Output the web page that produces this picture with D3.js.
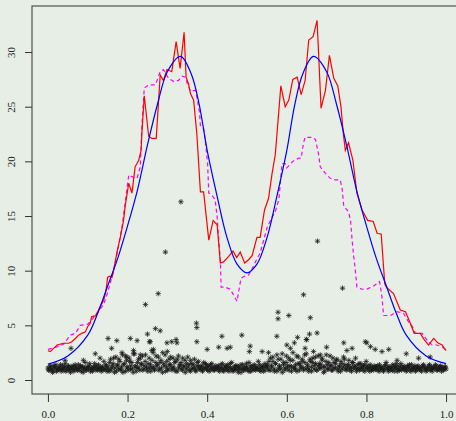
<!DOCTYPE html>
<html><head><meta charset="utf-8">
<script src="https://cdn.jsdelivr.net/npm/d3@7"></script>
<style>
html,body{margin:0;padding:0;background:#e6eee5;}
svg{display:block;}
text{font-family:"Liberation Serif","DejaVu Serif",serif;font-size:11px;fill:#222;}
</style></head><body>
<svg id="c" width="456" height="421"></svg>
<script>
// ---- data ----
const xTicks = [0.0, 0.2, 0.4, 0.6, 0.8, 1.0];
const yTicks = [0, 5, 10, 15, 20, 25, 30];

const blueX = [0,0.05,0.10,0.125,0.15,0.175,0.20,0.225,0.25,0.275,0.30,0.333,0.36,0.38,0.40,0.425,0.45,0.475,0.50,
  0.525,0.55,0.575,0.60,0.62,0.64,0.667,0.70,0.725,0.75,0.775,0.80,0.825,0.85,0.875,0.90,0.95,1.0];
const blueY = [1.45,2.2,4.1,6.1,8.6,11.1,14.1,17.4,21.5,25.2,28.2,29.6,28.0,25.2,21.0,16.8,13.0,10.6,9.8,
  10.6,13.0,16.8,21.0,25.2,28.0,29.6,28.2,25.2,21.5,17.4,14.1,11.1,8.6,6.1,4.1,2.2,1.5];

const redX = [0,0.006,0.023,0.039,0.052,0.060,0.069,0.077,0.085,0.094,0.100,0.106,0.110,0.119,0.125,0.131,0.140,0.146,0.150,
  0.156,0.161,0.165,0.173,0.182,0.190,0.194,0.203,0.211,0.219,0.228,0.234,0.236,0.242,0.253,0.261,0.272,0.282,0.290,0.299,
  0.311,0.322,0.332,0.342,0.347,0.353,0.358,0.366,0.374,0.383,0.391,0.404,0.415,0.425,0.433,0.441,0.454,0.465,0.474,0.483,
  0.494,0.504,0.513,0.525,0.533,0.544,0.554,0.563,0.571,0.575,0.585,0.596,0.605,0.615,0.626,0.636,0.646,0.655,0.666,0.676,
  0.686,0.697,0.707,0.718,0.728,0.736,0.742,0.747,0.755,0.766,0.776,0.789,0.803,0.817,0.827,0.837,0.846,0.850,0.868,0.885,
  0.898,0.909,0.920,0.935,0.945,0.956,0.969,0.979,0.990,1.0];
const redY = [2.68,2.6,3.2,3.36,3.36,3.5,3.8,4.1,4.27,4.4,4.9,5.2,5.8,5.86,6.25,6.7,7.3,8.2,9.4,
  9.5,9.4,10.06,11.6,13.1,14.6,15.9,18.0,17.1,19.5,20.1,21.0,22.6,26.0,22.3,22.1,22.1,27.9,27.4,28.4,
  28.2,30.95,28.5,31.8,27.7,27.1,26.2,25.6,22.5,17.2,17.2,12.8,14.6,14.2,10.7,10.8,11.3,11.8,11.2,11.7,
  10.7,11.0,11.4,13.05,13.05,15.55,16.6,18.9,20.6,22.4,26.9,25.0,25.6,27.5,27.7,26.1,27.4,31.1,31.4,32.9,
  24.85,26.5,29.7,27.6,26.9,25.0,22.5,21.0,21.7,20.1,17.1,15.55,14.6,14.5,13.4,13.36,8.8,8.5,7.9,6.4,
  6.25,5.3,4.27,4.27,3.7,3.2,3.8,3.4,3.2,2.68];

const magX = [0,0.02,0.04,0.056,0.07,0.081,0.10,0.119,0.14,0.15,0.165,0.177,0.186,0.194,0.203,0.211,0.224,0.232,0.236,0.242,
  0.253,0.270,0.282,0.290,0.303,0.316,0.328,0.337,0.345,0.351,0.359,0.370,0.374,0.381,0.383,0.391,0.395,0.401,0.404,0.412,
  0.420,0.425,0.429,0.433,0.435,0.445,0.458,0.466,0.475,0.481,0.485,0.491,0.504,0.516,0.525,0.533,0.542,0.550,0.563,0.571,
  0.580,0.588,0.596,0.600,0.615,0.630,0.636,0.642,0.646,0.663,0.672,0.680,0.684,0.697,0.709,0.722,0.734,0.739,0.743,0.755,
  0.760,0.764,0.768,0.772,0.776,0.789,0.800,0.818,0.833,0.839,0.843,0.860,0.877,0.893,0.906,0.915,0.923,0.940,0.952,0.965,
  0.977,0.990,1.0];
const magY = [2.8,3.0,3.3,4.1,4.3,5.0,5.1,5.9,6.9,8.0,10.0,12.2,14.0,16.2,18.75,18.6,18.45,19.5,23.2,26.7,
  27.0,27.0,28.2,28.4,27.6,27.3,27.4,27.8,27.7,27.0,26.4,26.5,25.9,24.4,23.2,23.0,22.0,19.8,17.1,16.9,
  16.5,14.9,12.8,11.0,8.5,8.5,8.3,7.8,7.2,8.5,9.3,9.45,9.6,10.4,11.1,11.6,12.8,13.9,14.9,15.4,
  16.5,19.8,19.8,19.4,20.0,20.3,20.3,21.7,22.2,22.2,22.0,20.6,19.5,18.9,18.45,18.3,18.3,17.5,15.9,15.4,
  14.6,12.8,11.3,10.1,8.5,8.3,8.3,8.6,9.0,7.6,5.9,5.9,6.25,6.1,5.3,4.9,4.27,4.27,3.66,3.2,
  3.2,3.05,2.7];

// dense band of observations (evenly spaced design points), two interleaved sets
const bandY = [
 1.1,0.9,1.3,1.0,0.8,1.2,1.4,0.9,1.1,1.0, 0.8,1.3,1.1,1.5,0.9,1.2,1.0,0.7,1.1,1.3,
 1.0,1.2,0.9,1.4,1.1,0.8,1.2,1.0,1.6,0.9, 1.1,1.3,0.8,1.0,1.2,1.5,0.9,1.1,1.4,1.0,
 0.8,1.2,1.7,1.0,1.3,
 1.2,0.8,1.9,1.1,1.5,0.7,2.1,1.3,1.0,1.7, 0.9,2.3,1.4,0.8,1.8,1.2,2.0,1.0,1.6,0.7,
 2.4,1.3,1.1,1.9,0.9,1.5,2.2,1.0,1.7,1.2, 0.8,2.0,1.4,1.1,2.5,0.9,1.6,1.3,2.1,1.0,
 1.8,0.7,1.5,2.3,1.2,0.9,1.9,1.4,1.1,2.0, 1.0,1.7,0.8,2.2,1.3,1.6,0.9,1.2,1.8,1.0,
 2.1,1.4,0.8,1.5,1.1,1.9,0.9,1.3,1.7,1.0, 1.2,0.8,1.6,1.1,1.4,0.9,1.3,1.0,1.5,1.2,
 0.9,1.1,
 1.0,1.3,0.8,1.1,1.5,0.9,1.2,1.0,1.4,0.8, 1.1,1.6,0.9,1.2,1.0,1.3,0.7,1.1,1.4,1.0,
 0.9,1.2,1.5,1.0,0.8,1.3,1.1,0.9,1.4,1.2, 1.0,1.7,0.9,1.1,1.3,0.8,1.5,1.2,
 1.4,0.9,2.0,1.2,1.7,0.8,1.5,2.3,1.0,1.3, 1.9,0.7,1.6,1.1,2.2,1.3,0.9,1.8,1.2,2.5,
 1.0,1.4,0.8,2.1,1.5,1.1,1.9,0.9,1.6,2.4, 1.2,1.0,1.7,0.8,2.0,1.3,1.5,0.9,2.2,1.1,
 1.4,1.8,0.7,1.2,2.3,1.0,1.6,1.3,0.9,2.0, 1.1,1.5,1.9,0.8,1.2,1.7,1.0,2.1,1.4,0.9,
 1.3,1.8,1.1,0.8,1.6,1.2,2.0,1.0,1.4,0.9, 1.5,1.1,1.3,0.8,1.7,1.0,1.2,1.4,0.9,1.1,
 1.3,1.0,
 1.2,0.9,1.4,1.0,1.1,0.8,1.3,1.6,1.0,1.2, 0.9,1.1,1.4,0.8,1.2,1.0,1.3,0.9,1.5,1.1,
 1.0,1.2,0.8,1.3,1.1,0.9,1.4,1.0,1.2,0.8, 1.1,1.3,1.0,0.9,1.2,1.4,1.0,0.8,1.1,1.3,
 0.9,1.2,1.0,1.1,1.4,0.9,1.2,1.0,1.3,1.1, 0.9,1.2,1.0];
const bandY2 = [
 0.9,1.2,1.0,0.7,1.3,1.1,0.8,1.0,1.2,1.4, 1.0,0.9,1.2,0.8,1.1,1.3,0.9,1.2,1.0,0.8,
 1.4,1.1,0.9,1.0,1.3,1.2,0.7,1.1,0.9,1.2, 1.0,1.5,1.1,0.8,1.0,1.2,1.3,0.9,1.0,1.2,
 1.1,0.9,1.0,1.4,0.8,
 1.0,1.6,0.9,1.3,2.0,1.1,0.8,1.4,1.9,1.0, 1.2,0.7,1.5,2.2,1.1,0.9,1.7,1.3,1.0,2.4,
 1.2,0.8,1.6,1.1,2.0,1.4,0.9,1.3,2.3,1.0, 1.5,1.1,0.8,1.8,1.2,1.0,2.2,1.4,0.9,1.6,
 1.1,2.5,1.3,0.8,1.7,1.0,1.4,2.1,0.9,1.2, 1.6,0.8,1.9,1.1,1.4,1.0,2.0,1.3,0.7,1.5,
 1.2,0.9,1.8,1.0,1.4,1.1,0.8,1.6,1.2,1.0, 1.3,0.9,1.1,1.5,1.0,1.2,0.8,1.4,1.1,0.9,
 1.0,1.3,
 1.2,0.9,1.1,1.4,1.0,0.8,1.3,1.1,0.9,1.2, 1.5,1.0,0.8,1.1,1.3,0.9,1.2,1.0,0.7,1.4,
 1.1,0.9,1.2,1.0,1.6,0.8,1.1,1.3,1.0,0.9, 1.2,1.0,1.4,0.8,1.1,1.2,0.9,1.3,
 1.1,1.7,0.9,1.3,2.1,1.0,1.5,0.8,1.9,1.2, 1.0,2.4,1.4,0.9,1.6,1.1,2.0,1.3,0.8,1.8,
 1.2,1.0,2.2,1.5,0.9,1.3,1.7,1.1,2.3,1.0, 1.4,0.8,1.9,1.2,1.6,1.0,2.1,0.9,1.3,1.5,
 1.1,2.0,1.2,0.8,1.7,1.4,1.0,2.2,1.3,0.9, 1.6,1.1,1.8,1.0,1.3,0.8,1.5,1.2,1.9,1.0,
 1.1,1.4,0.9,1.2,1.6,1.0,1.3,0.8,1.1,1.5, 1.0,1.2,0.9,1.4,1.1,1.3,1.0,0.8,1.2,1.0,
 0.9,1.2,
 1.0,1.3,0.8,1.1,1.2,0.9,1.0,1.4,1.1,0.8, 1.2,1.0,0.9,1.3,1.1,1.5,0.8,1.0,1.2,0.9,
 1.3,1.0,1.1,0.9,1.2,1.4,0.8,1.1,1.0,1.3, 0.9,1.2,1.0,1.1,0.8,1.3,1.2,1.0,0.9,1.1,
 1.4,1.0,0.8,1.2,1.1,1.3,0.9,1.0,1.2,0.8, 1.1,1.0,1.2];

// scattered observations above the band
const outX = [0.334,0.295,0.277,0.245,0.677,0.642,0.740,0.270,0.282,0.373,0.374,0.437,0.487,0.578,0.578,0.605,0.575,
  0.151,0.173,0.207,0.224,0.250,0.255,0.058,0.119,0.659,0.657,0.676,0.649,0.743,0.797,0.856,
  0.257,0.265,0.299,0.311,0.322,0.324,0.300,0.374,0.400,0.429,0.450,0.458,0.508,0.506,0.538,0.554,
  0.600,0.609,0.619,0.627,0.646,0.650,0.667,0.684,0.700,0.751,0.764,0.801,0.810,0.822,0.839,0.877,
  0.931,0.960,0.900,0.186,0.198,0.215,0.232,0.261,0.160,0.043,0.089,0.131];
const outY = [16.3,11.7,7.9,6.9,12.7,7.8,8.4,4.7,4.5,5.2,4.8,4.0,4.1,6.2,5.6,5.9,4.0,
  3.8,3.6,3.8,3.6,4.2,3.5,2.9,2.4,5.7,4.2,4.3,3.7,3.4,3.5,2.8,
  3.5,2.8,3.4,3.5,3.7,3.4,2.6,3.5,2.8,3.0,2.9,3.0,3.1,2.6,2.6,2.5,
  3.2,2.9,3.4,3.9,2.9,3.7,2.6,2.3,3.0,2.7,2.9,3.4,3.05,2.8,2.6,1.8,
  2.0,2.1,2.4,2.5,2.1,2.7,2.3,2.7,2.9,1.8,1.8,2.0];

// ---- drawing ----
const svg = d3.select("#c");
const L = 32, R = 462, T = 6, B = 394;
const x = d3.scaleLinear().domain([-0.04, 1.04]).range([L, R]);
const y = d3.scaleLinear().domain([-1.28, 34.21]).range([B, T]);

// stars
const n1 = bandY.length, n2 = bandY2.length;
const starPts = bandY.map((v, i) => [i / (n1 - 1), v])
  .concat(bandY2.map((v, i) => [(i + 0.5) / n2, v]))
  .concat(outX.map((v, i) => [v, outY[i]]));
const s = 2.7, d = s * 0.72;
const starPath = `M${-s},0H${s}M0,${-s}V${s}M${-d},${-d}L${d},${d}M${-d},${d}L${d},${-d}`;
svg.append("g").selectAll("path").data(starPts).join("path")
  .attr("transform", p => `translate(${x(p[0])},${y(p[1])})`)
  .attr("d", starPath)
  .attr("fill", "none").attr("stroke", "#1a1a1a").attr("stroke-width", 0.9).attr("stroke-opacity", 0.85);

const line = d3.line().x(p => x(p[0])).y(p => y(p[1]));
const zip = (a, b) => a.map((v, i) => [v, b[i]]);

svg.append("path").datum(zip(magX, magY)).attr("d", line)
  .attr("fill", "none").attr("stroke", "#ff00ff").attr("stroke-width", 1.2).attr("stroke-dasharray", "4,3");
svg.append("path").datum(zip(redX, redY)).attr("d", line)
  .attr("fill", "none").attr("stroke", "#ff0000").attr("stroke-width", 1.2);
svg.append("path").datum(zip(blueX, blueY)).attr("d", line.curve(d3.curveCatmullRom))
  .attr("fill", "none").attr("stroke", "#0000ff").attr("stroke-width", 1.2);

// frame
svg.append("rect").attr("x", L).attr("y", T).attr("width", R - L).attr("height", B - T)
  .attr("fill", "none").attr("stroke", "#333").attr("stroke-width", 1);

// axes
const xa = svg.append("g").attr("transform", `translate(0,${B})`)
  .call(d3.axisBottom(x).tickValues(xTicks).tickFormat(d3.format(".1f")).tickSize(8).tickPadding(8));
const ya = svg.append("g").attr("transform", `translate(${L},0)`)
  .call(d3.axisLeft(y).tickValues(yTicks).tickFormat(d3.format("d")).tickSize(7));
[xa, ya].forEach(g => {
  g.select(".domain").remove();
  g.selectAll("line").attr("stroke", "#333");
  g.selectAll("text").attr("font-family", '"Liberation Serif", serif').attr("font-size", 11).attr("fill", "#222");
});
ya.selectAll("text")
  .attr("x", null).attr("y", null).attr("dy", null)
  .attr("text-anchor", "middle")
  .attr("transform", "translate(-17,0) rotate(-90)");
</script>
</body></html>
